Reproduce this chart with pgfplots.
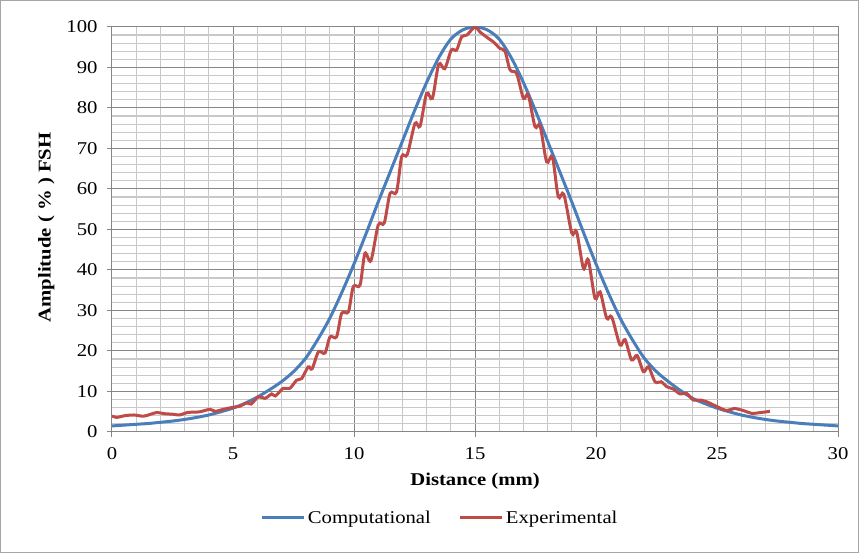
\documentclass[border=0pt]{standalone}
\usepackage{pgfplots}
\pgfplotsset{compat=1.18}
\usepackage{fontspec}
\setmainfont{Liberation Serif}[FakeStretch=1.15]
\definecolor{cblue}{HTML}{4A7EBB}
\definecolor{cred}{HTML}{BE4B48}
\definecolor{majg}{HTML}{868686}
\definecolor{ming}{HTML}{C8C8C8}
\definecolor{bord}{HTML}{A6A6A6}
\begin{document}
\begin{tikzpicture}
\begin{axis}[
  anchor=south west, at={(0pt,0pt)},
  scale only axis, width=726pt, height=405pt,
  xmin=0, xmax=30, ymin=0, ymax=100,
  xtick={0,5,...,30}, ytick={0,10,...,100},
  minor x tick num=4, minor y tick num=4,
  grid=both,
  major grid style={majg, line width=1pt},
  minor grid style={ming, line width=1.2pt},
  axis line style={majg, line width=1pt},
  every tick/.style={majg, line width=1pt},
  minor tick length=0pt, major tick length=5pt,
  tick align=outside, xtick pos=left, ytick pos=left,
  /pgf/number format/assume math mode=true,
  ticklabel style={font=\fontsize{18}{18}\selectfont},
  xticklabel style={yshift=-7pt},
  yticklabel style={xshift=-6pt},
  xlabel={\textbf{Distance (mm)}},
  ylabel={\textbf{Amplitude ( \% ) FSH}},
  xlabel style={font=\fontsize{18}{18}\selectfont, at={(axis description cs:0.5,-0.121)}, anchor=center},
  ylabel style={font=\fontsize{18}{18}\selectfont, at={(axis description cs:-0.0905,0.505)}, anchor=center},
  legend columns=2,
  legend style={draw=none, fill=none, at={(0.452,-0.212)}, anchor=center,
    font=\fontsize{18}{18}\selectfont,
    /tikz/every even column/.append style={column sep=26pt}},
  legend image code/.code={\draw[#1] (0pt,0pt) -- (42pt,0pt);},
]
\addplot[cblue, line width=3pt, smooth] coordinates {
(0,1.5)(0.5,1.7)(1,1.9)(1.5,2.1)(2,2.4)(2.5,2.7)(3,3.1)(3.5,3.6)(4,4.2)(4.5,5.0)
(5,5.9)(5.5,7.1)(6,8.6)(6.5,10.4)(7,12.4)(7.5,14.9)(8,18.2)(8.5,22.8)(9,28.1)(9.5,34.5)
(10,41.5)(10.5,49.0)(11,56.8)(11.5,64.3)(12,71.8)(12.5,79.3)(13,86.3)(13.5,92.4)(14,97.0)(14.5,99.3)
(15,100)(15.5,99.3)(16,97.0)(16.5,92.4)(17,86.3)(17.5,79.3)(18,71.8)(18.5,64.3)(19,56.8)(19.5,49.0)
(20,41.5)(20.5,34.5)(21,28.1)(21.5,22.8)(22,18.2)(22.5,14.9)(23,12.4)(23.5,10.2)(24,8.3)(24.5,7.0)
(25,5.9)(25.5,5.0)(26,4.2)(26.5,3.6)(27,3.1)(27.5,2.7)(28,2.4)(28.5,2.1)(29,1.9)(29.5,1.7)(30,1.5)
};
\addlegendentry{Computational}
\addplot[cred, line width=3pt, smooth] coordinates {
(0,3.95)(0.2,3.6)(0.5,4.0)(0.9,4.2)(1.3,3.9)(1.6,4.4)(1.85,4.8)(2.2,4.5)(2.5,4.4)(2.8,4.2)
(3.1,4.8)(3.4,4.9)(3.64,5.0)(4.05,5.6)(4.26,5.1)(4.6,5.6)(5.0,6.1)(5.3,6.4)(5.57,7.2)(5.75,6.9)
(6.05,8.7)(6.32,8.3)(6.6,9.4)(6.75,8.9)(7.08,10.8)(7.35,10.8)(7.63,12.8)(7.84,13.2)(8.11,16.1)(8.27,15.6)
(8.53,19.8)(8.8,19.5)(9.01,23.5)(9.28,23.5)(9.49,29.3)(9.77,29.7)(9.97,35.9)(10.25,36.3)(10.45,44.1)(10.7,42.3)
(11.0,51.1)(11.25,51.6)(11.49,58.9)(11.76,59.3)(11.97,68.0)(12.2,68.5)(12.52,76.2)(12.73,75.5)(13.0,83.6)(13.24,82.4)
(13.5,90.8)(13.75,89.7)(14.02,94.3)(14.24,94.3)(14.45,97.6)(14.66,98.0)(15.0,100.0)(15.2,98.8)(15.55,97.2)(15.76,96.3)
(16.03,94.7)(16.24,94.0)(16.45,89.4)(16.72,88.5)(17.0,82.4)(17.2,83.2)(17.48,75.4)(17.69,75.6)(17.96,66.7)(18.2,67.9)
(18.44,58.1)(18.67,58.7)(19.0,49.1)(19.2,49.4)(19.48,40.4)(19.68,42.5)(19.96,33.0)(20.17,34.6)(20.44,28.1)(20.65,28.4)
(20.99,21.5)(21.2,22.8)(21.47,17.8)(21.7,18.9)(21.96,14.9)(22.17,16.1)(22.44,12.4)(22.7,12.4)(22.92,11.2)(23.2,10.6)
(23.47,9.4)(23.75,9.5)(24.02,7.9)(24.3,7.9)(24.56,7.5)(24.99,6.3)(25.4,5.3)(25.7,5.8)(26.09,5.3)(26.43,4.6)
(26.8,4.8)(27.19,5.1)
};
\addlegendentry{Experimental}
\end{axis}
\draw[bord, line width=1pt] (-111.5pt,-120.5pt) rectangle (746.5pt,431.5pt);
\pgfresetboundingbox
\useasboundingbox (-112pt,-121pt) rectangle (747pt,432pt);
\end{tikzpicture}
\end{document}
